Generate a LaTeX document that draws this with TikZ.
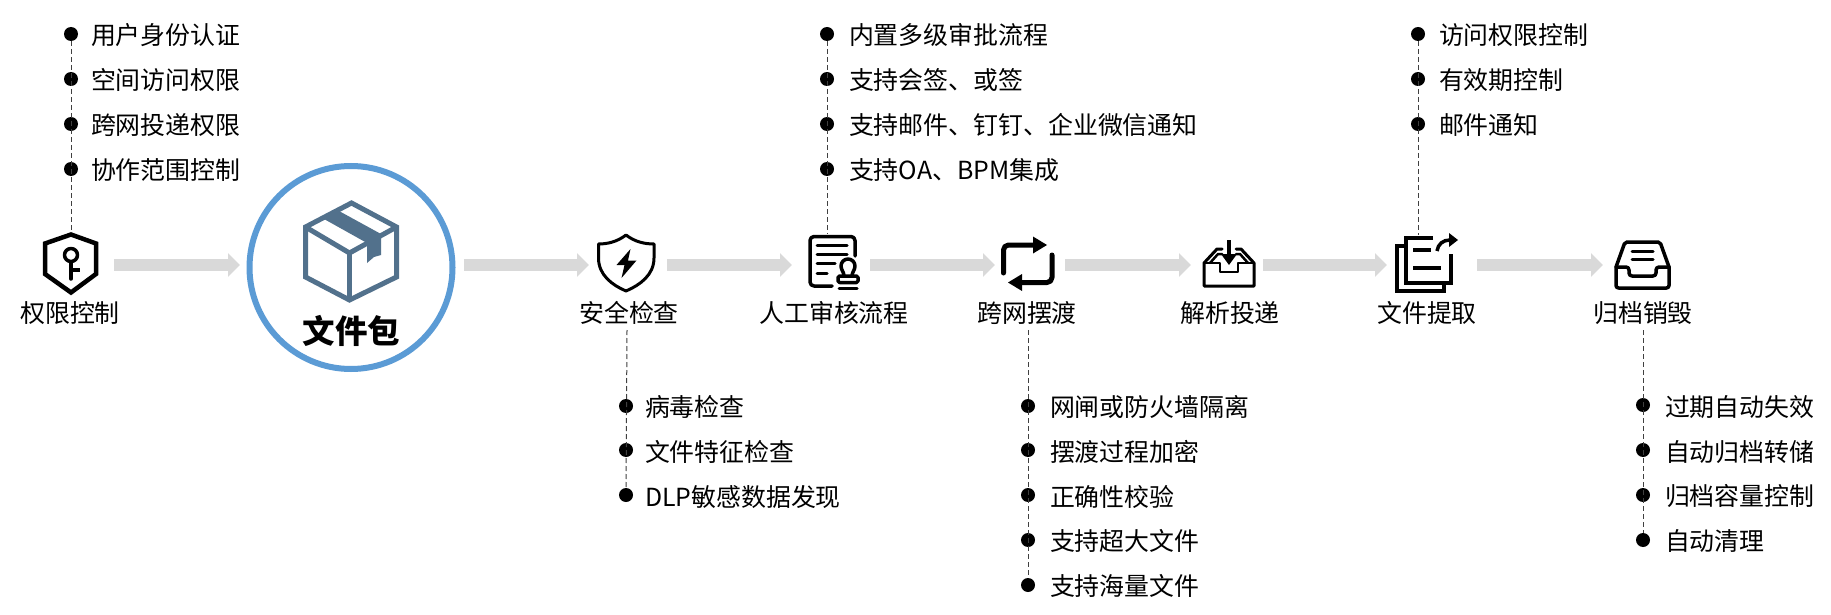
\documentclass[tikz,border=0pt]{standalone}
\usepackage{fontspec}
\setmainfont{Noto Sans CJK SC}
\usetikzlibrary{arrows.meta}
\definecolor{flowgray}{HTML}{D9D9D9}
\definecolor{ringblue}{HTML}{5B9BD5}
\definecolor{boxblue}{HTML}{52718C}
\tikzset{
  base/.style={inner sep=0pt,outer sep=0pt,text height=0.88em,text depth=0.12em,font=\fontsize{24.9}{28}\selectfont,yshift=-6.5pt},
  item/.style={base,anchor=west},
  title/.style={base,anchor=center},
  dot/.style={circle,fill=black,inner sep=0pt,outer sep=0pt,minimum size=14pt,yshift=-1pt},
  lead/.style={draw=black!75,line width=1pt,dash pattern=on 5pt off 3pt},
  flow/.style={draw=flowgray,line width=12pt,-{Triangle[length=12pt,width=23pt,fill=flowgray]}},
  ico/.style={draw=black,line width=#1,line cap=round,line join=round},
  ico/.default=3.5pt
}
\begin{document}
\begin{tikzpicture}[x=1pt,y=-1pt]
\path[use as bounding box,fill=white] (0,0) rectangle (1831,615);

% anchors for connectors
\coordinate (i1t) at (71,232);
\coordinate (i3b) at (627,330);
\coordinate (i4t) at (827,234);
\coordinate (i5b) at (1028,330);
\coordinate (i7t) at (1418,235);
\coordinate (i8b) at (1643,330);
\foreach \n/\x in {a1/114,a2/240,b1/464,b2/589,c1/667,c2/792,d1/870,d2/995,e1/1065,e2/1191,f1/1263,f2/1387,g1/1477,g2/1603}
  \coordinate (\n) at (\x,265);

% flow arrows
\draw[flow] (a1) -- (a2);
\draw[flow] (b1) -- (b2);
\draw[flow] (c1) -- (c2);
\draw[flow] (d1) -- (d2);
\draw[flow] (e1) -- (e2);
\draw[flow] (f1) -- (f2);
\draw[flow] (g1) -- (g2);

% list 1
\node[dot] (l1a) at (71,33) {}; \node[item] (t1a) at (91,34) {用户身份认证};
\node[dot] (l1b) at (71,78) {}; \node[item] (t1b) at (91,79) {空间访问权限};
\node[dot] (l1c) at (71,123) {}; \node[item] (t1c) at (91,124) {跨网投递权限};
\node[dot] (l1d) at (71,168) {}; \node[item] (t1d) at (91,169) {协作范围控制};
\draw[lead] (l1a) -- (i1t);
% list 2
\node[dot] (l2a) at (626,405) {}; \node[item] (t2a) at (645,406) {病毒检查};
\node[dot] (l2b) at (626,449) {}; \node[item] (t2b) at (645,451) {文件特征检查};
\node[dot] (l2c) at (626,494) {}; \node[item] (t2c) at (645,496) {DLP敏感数据发现};
\draw[lead] (i3b) -- (l2c);
% list 3
\node[dot] (l3a) at (827,33) {}; \node[item] (t3a) at (849,34) {内置多级审批流程};
\node[dot] (l3b) at (827,78) {}; \node[item] (t3b) at (849,79) {支持会签、或签};
\node[dot] (l3c) at (827,123) {}; \node[item] (t3c) at (849,124) {支持邮件、钉钉、企业微信通知};
\node[dot] (l3d) at (827,168) {}; \node[item] (t3d) at (849,169) {支持OA、BPM集成};
\draw[lead] (l3a) -- (i4t);
% list 4
\node[dot] (l4a) at (1028,405) {}; \node[item] (t4a) at (1050,406) {网闸或防火墙隔离};
\node[dot] (l4b) at (1028,449) {}; \node[item] (t4b) at (1050,451) {摆渡过程加密};
\node[dot] (l4c) at (1028,494) {}; \node[item] (t4c) at (1050,496) {正确性校验};
\node[dot] (l4d) at (1028,539) {}; \node[item] (t4d) at (1050,540) {支持超大文件};
\node[dot] (l4e) at (1028,584) {}; \node[item] (t4e) at (1050,585) {支持海量文件};
\draw[lead] (i5b) -- (l4e);
% list 5
\node[dot] (l5a) at (1418,33) {}; \node[item] (t5a) at (1439,34) {访问权限控制};
\node[dot] (l5b) at (1418,78) {}; \node[item] (t5b) at (1439,79) {有效期控制};
\node[dot] (l5c) at (1418,123) {}; \node[item] (t5c) at (1439,124) {邮件通知};
\draw[lead] (l5a) -- (i7t);
% list 6
\node[dot] (l6a) at (1643,404) {}; \node[item] (t6a) at (1665,406) {过期自动失效};
\node[dot] (l6b) at (1643,449) {}; \node[item] (t6b) at (1665,451) {自动归档转储};
\node[dot] (l6c) at (1643,494) {}; \node[item] (t6c) at (1665,495) {归档容量控制};
\node[dot] (l6d) at (1643,539) {}; \node[item] (t6d) at (1665,540) {自动清理};
\draw[lead] (i8b) -- (l6d);

% stage titles
\node[title] (n1) at (70,312) {权限控制};
\node[title] (n3) at (629,312) {安全检查};
\node[title] (n4) at (834,312) {人工审核流程};
\node[title] (n5) at (1027,312) {跨网摆渡};
\node[title] (n6) at (1230,312) {解析投递};
\node[title] (n7) at (1427,312) {文件提取};
\node[title] (n8) at (1643,312) {归档销毁};

% package ring
\node[circle,draw=ringblue,line width=6pt,minimum size=203pt,inner sep=0pt,outer sep=0pt] (pkg) at (351,267.5) {};
\node[base,font=\fontsize{32.5}{36}\selectfont\bfseries,anchor=center] (pkgt) at (351.5,333.5) {文件包};
% box icon
\begin{scope}[draw=boxblue,line width=5pt,line join=miter]
  \draw (305.5,227) -- (351.5,203) -- (396.5,227) -- (396.5,277) -- (349.5,300) -- (305.5,277) -- cycle;
  \draw (305.5,227) -- (349.5,253) -- (396.5,227);
  \draw (349.5,253) -- (349.5,300);
\end{scope}
\fill[boxblue] (324,219) -- (339,211) -- (381,234) -- (381,255) -- (374,257) -- (367,263) -- (367,243) -- cycle;

% icon: key shield
\draw[ico=4.5pt,line cap=butt,line join=miter] (71,234.5) -- (96,243.5) -- (96,274) -- (71,292.5) -- (45,274) -- (45,243.5) -- cycle;
\draw[ico=3.5pt] (71,255) circle (6.5);
\draw[ico=3.5pt] (71,262) -- (71,279);
\draw[ico=3.5pt,line cap=butt] (71,270) -- (80,270);

% icon: bolt shield
\draw[ico=3pt] (626,235) .. controls (617,242) and (607,244) .. (598.5,244) -- (598.5,258) .. controls (598.5,275) and (612,285) .. (626,291) .. controls (640,285) and (654,275) .. (654,258) -- (654,244) .. controls (645,244) and (635,242) .. (626,235) -- cycle;
\fill[black] (630.5,249) -- (616.5,265) -- (624.5,265) -- (621.5,278) -- (636.5,260.5) -- (628,260.5) -- cycle;

% icon: document with stamp
\draw[ico=3.5pt,rounded corners=4pt] (855,256) -- (855,236.5) -- (810,236.5) -- (810,286) -- (832,286);
\foreach \yy/\xx in {245/847,254/847,263/835,273/827}
  \draw[ico=3pt] (817,\yy) -- (\xx,\yy);
\draw[ico=3.5pt] (844,276) .. controls (844,272) and (841,270) .. (841,266) arc[start angle=180,end angle=360,radius=7] .. controls (855,270) and (852,272) .. (852,276);
\draw[ico=3.5pt,rounded corners=1.5pt] (838,276) rectangle (858,282.5);
\draw[ico=3pt] (839,288) -- (857,288);

% icon: transfer loop
\draw[ico=5pt,rounded corners=5pt] (1003.5,273) -- (1003.5,245) -- (1034,245);
\fill[black] (1033,236.5) -- (1047,245) -- (1033,253.5) -- cycle;
\draw[ico=5pt,rounded corners=5pt] (1052,255) -- (1052,282.5) -- (1021,282.5);
\fill[black] (1022,274) -- (1008,282.5) -- (1022,291) -- cycle;

% icon: inbox
\draw[ico=3pt] (1222,249) -- (1217,249) -- (1204,263) -- (1204,286) -- (1254,286) -- (1254,263) -- (1241,249) -- (1236,249);
\draw[ico=2.5pt] (1204,263) -- (1220,263) -- (1220,272) -- (1238,272) -- (1238,263) -- (1254,263);
\draw[ico=2.5pt] (1210,263) -- (1218,254) -- (1222,254);
\draw[ico=2.5pt] (1248,263) -- (1240,254) -- (1236,254);
\draw[ico=3.5pt,line cap=butt] (1229,240) -- (1229,258);
\fill[black] (1221,254) -- (1237,254) -- (1229,265) -- cycle;

% icon: copy + share
\draw[ico=4pt,line cap=butt,line join=miter] (1433,238) -- (1406,238) -- (1406,283) -- (1451,283) -- (1451,254);
\draw[ico=4pt,line cap=butt,line join=miter] (1406,246) -- (1397,246) -- (1397,291) -- (1444,291) -- (1444,283);
\draw[ico=4pt,line cap=butt] (1413,250) -- (1431,250);
\draw[ico=4pt,line cap=butt] (1413,268) -- (1441,268);
\draw[ico=3.5pt,line cap=butt] (1437,251) .. controls (1438,244) and (1443,240) .. (1450,240);
\fill[black] (1449,233) -- (1458,240) -- (1449,247) -- cycle;

% icon: tray
\draw[ico=3.5pt,rounded corners=2pt] (1616,267) -- (1625,242) -- (1660,242) -- (1669,267);
\draw[ico=3.5pt,rounded corners=2.5pt] (1616,267) -- (1616,288) -- (1669,288) -- (1669,267);
\draw[ico=3.5pt,rounded corners=3pt] (1616,267) -- (1629,267) -- (1629,276) -- (1656,276) -- (1656,267) -- (1669,267);
\draw[ico=3pt] (1632,251) -- (1653,251);
\draw[ico=3pt] (1632,259) -- (1653,259);
\end{tikzpicture}
\end{document}
